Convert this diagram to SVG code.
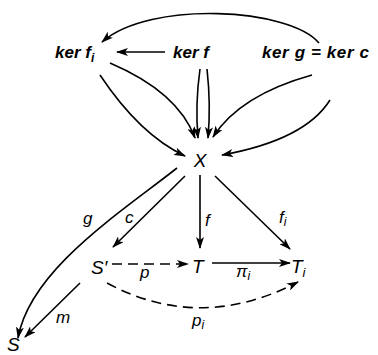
<svg xmlns="http://www.w3.org/2000/svg" width="378" height="355" viewBox="0 0 378 355">
<style>
.k{font-family:"Liberation Sans",Arial,sans-serif;font-style:italic;font-weight:bold;font-size:17px;fill:#000}
.n{font-family:"Liberation Sans",Arial,sans-serif;font-style:italic;font-size:19px;fill:#000}
.l{font-family:"Liberation Sans",Arial,sans-serif;font-style:italic;font-size:17px;fill:#000}
.c{fill:none;stroke:#000;stroke-width:1.6}
.d{stroke-dasharray:10,6}
</style>
<defs>
<marker id="a" viewBox="0 0 12 8" refX="11" refY="4" markerWidth="12" markerHeight="8" markerUnits="userSpaceOnUse" orient="auto">
<path d="M0,0 L12,4 L0,8 L3,4 z" fill="#000"/>
</marker>
</defs>
<rect width="378" height="355" fill="#fff"/>
<g id="connectors">
<path class="c" d="M319,43 C290,8 150,0 102,42" marker-end="url(#a)"/>
<path class="c" d="M165,52 L117,52" marker-end="url(#a)"/>
<path class="c" d="M100,75 Q140,135 185,156" marker-end="url(#a)"/>
<path class="c" d="M110,63 Q178,92 195,138" marker-end="url(#a)"/>
<path class="c" d="M200,69 Q195,105 198,138" marker-end="url(#a)"/>
<path class="c" d="M207,69 Q211,105 208,138" marker-end="url(#a)"/>
<path class="c" d="M312,75 Q240,95 213,137" marker-end="url(#a)"/>
<path class="c" d="M330,100 Q305,140 222,155" marker-end="url(#a)"/>
<path class="c" d="M177,168 C120,213 30,270 18,338" marker-end="url(#a)"/>
<path class="c" d="M185,176 L113,247" marker-end="url(#a)"/>
<path class="c" d="M200,175 L200,248" marker-end="url(#a)"/>
<path class="c" d="M215,176 L290,249" marker-end="url(#a)"/>
<path class="c d" d="M112,264 L188,264" marker-end="url(#a)"/>
<path class="c" d="M212,263 L290,263" marker-end="url(#a)"/>
<path class="c d" d="M107,283 Q200,333 298,282" marker-end="url(#a)"/>
<path class="c" d="M80,283 L25,337" marker-end="url(#a)"/>
<text class="l" x="83" y="224">g</text>
<text class="l" x="125" y="223">c</text>
<text class="l" x="205" y="226">f</text>
<text class="l" x="279" y="223">f<tspan font-size="12" dy="3">i</tspan></text>
<text class="l" x="140" y="278">p</text>
<text class="l" x="236" y="277">π<tspan font-size="12" dy="3">i</tspan></text>
<text class="l" x="192" y="326">p<tspan font-size="12" dy="3">i</tspan></text>
<text class="l" x="56" y="323">m</text>
</g>
<g id="kerfi"><text class="k" x="55" y="58">ker f<tspan font-size="12" dy="4">i</tspan></text></g>
<g id="kerf"><text class="k" x="173" y="58">ker f</text></g>
<g id="kerg"><text class="k" x="262" y="58" letter-spacing="0.6">ker g = ker c</text></g>
<g id="X"><text class="n" x="200" y="167" text-anchor="middle">X</text></g>
<g id="Sp"><text class="n" x="91" y="274">S′</text></g>
<g id="T"><text class="n" x="192" y="273">T</text></g>
<g id="Ti"><text class="n" x="291" y="273">T<tspan font-size="13" dy="4">i</tspan></text></g>
<g id="S"><text class="n" x="7" y="351">S</text></g>
</svg>
